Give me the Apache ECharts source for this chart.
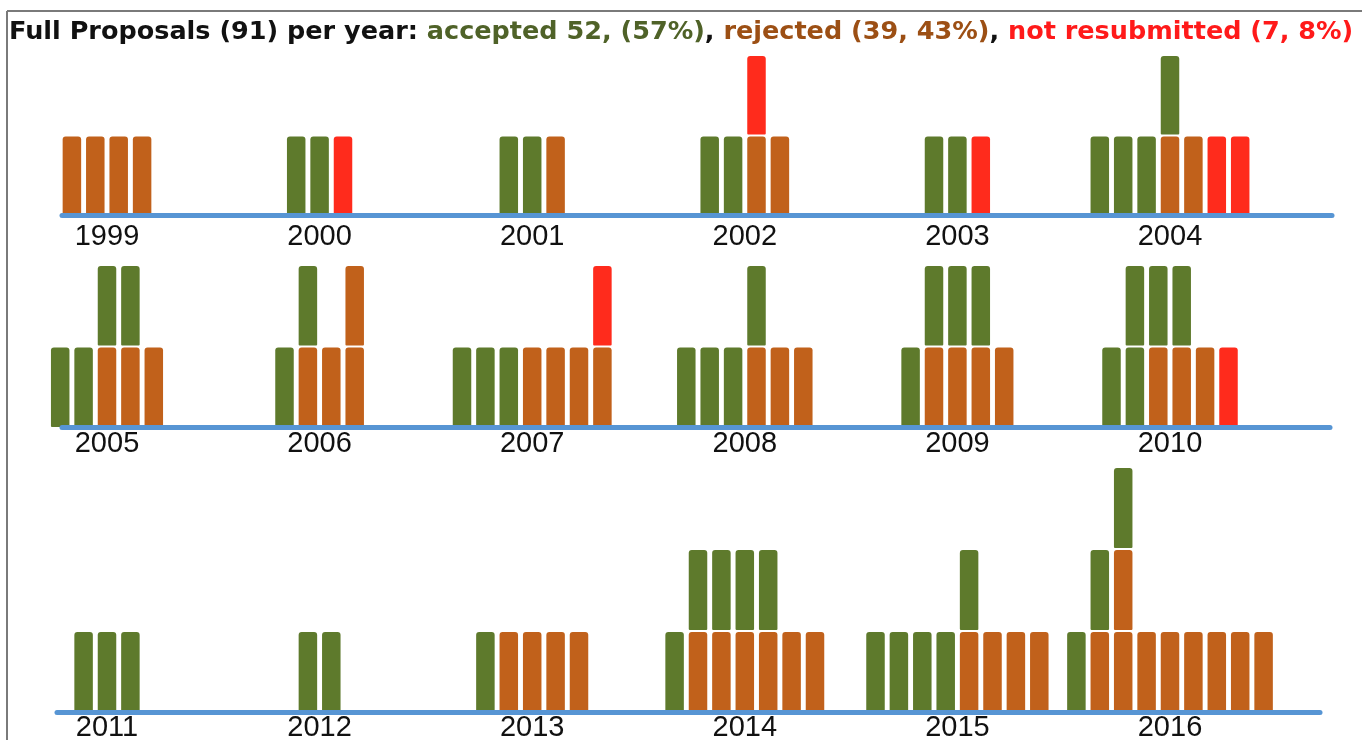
<!DOCTYPE html>
<html>
<head>
<meta charset="utf-8">
<script src="https://cdn.jsdelivr.net/npm/echarts@6/dist/echarts.min.js"></script>
<style>
  html, body { margin: 0; padding: 0; background: #ffffff; }
  #chart { width: 1362px; height: 740px; }
</style>
</head>
<body>
<div id="chart"></div>
<script>
// ---- data ----
// Year labels, in reading order (three rows of six).
const years = ['1999','2000','2001','2002','2003','2004',
               '2005','2006','2007','2008','2009','2010',
               '2011','2012','2013','2014','2015','2016'];
// Proposals per year, one string per column, stacked bottom -> top.
// A = accepted, R = rejected, N = not resubmitted
const columns = [
  ['R','R','R','R'],
  ['A','A','N'],
  ['A','A','R'],
  ['A','A','RN','R'],
  ['A','A','N'],
  ['A','A','A','RA','R','N','N'],
  ['A','A','RA','RA','R'],
  ['A','RA','R','RR'],
  ['A','A','A','R','R','R','RN'],
  ['A','A','A','RA','R','R'],
  ['A','RA','RA','RA','R'],
  ['A','AA','RA','RA','R','N'],
  ['A','A','A'],
  ['A','A'],
  ['A','R','R','R','R'],
  ['A','RA','RA','RA','RA','R','R'],
  ['A','A','A','A','RA','R','R','R'],
  ['A','RA','RRA','R','R','R','R','R','R']
];
const outcomeCodes = ['A','R','N'];
const titleParts = ['Full Proposals (91) per year: ', 'accepted 52, (57%)', ', ', 'rejected (39, 43%)', ', ', 'not resubmitted (7, 8%)'];

// ---- styling / layout ----
const blockColors = ['#5e7a2c', '#c1611b', '#ff2b1c'];
const lineBlue = '#5795d4';
const yearsPerRow = 6;
const anchorPx = 107;      // pixel x of first year label
const yearPx = 212.6;      // pixel spacing between years
const colPx = 23.4;        // pixel spacing between columns
const barW = 18.5;
const rows = [
  { top: 54,  height: 161, left: 62, right: 30, levels: 2, labelOffset: 22 },
  { top: 264, height: 163, left: 62, right: 32, levels: 2, labelOffset: 17 },
  { top: 466, height: 246, left: 57, right: 42, levels: 3, labelOffset: 16 }
];

const grids = [], xAxes = [], yAxes = [], series = [];
rows.forEach((row, r) => {
  const width = 1362 - row.left - row.right;
  const min = (row.left - anchorPx) / yearPx;
  grids.push({ left: row.left, right: row.right, top: row.top, height: row.height });
  xAxes.push({
    type: 'value', gridIndex: r, min: min, max: min + width / yearPx, z: 10,
    axisLine: { show: true, onZero: false, lineStyle: { color: lineBlue, width: 5 } },
    axisTick: { show: false }, axisLabel: { show: false }, splitLine: { show: false }
  });
  yAxes.push({
    type: 'value', gridIndex: r, min: 0, max: row.levels,
    axisLine: { show: false }, axisTick: { show: false }, axisLabel: { show: false }, splitLine: { show: false }
  });
  const blocks = [], labels = [];
  for (let k = 0; k < yearsPerRow; k++) {
    const yi = r * yearsPerRow + k;
    const cols = columns[yi];
    const n = cols.length;
    cols.forEach((stack, c) => {
      const x = k + (c - (n - 1) / 2) * colPx / yearPx;
      stack.split('').forEach((code, lvl) => {
        blocks.push([x, lvl, outcomeCodes.indexOf(code)]);
      });
    });
    labels.push([k, 0, years[yi]]);
  }
  series.push({
    type: 'custom', xAxisIndex: r, yAxisIndex: r, clip: false,
    data: blocks,
    renderItem: function (params, api) {
      const x = api.value(0), lvl = api.value(1), kind = api.value(2);
      const p0 = api.coord([x, lvl]);
      const p1 = api.coord([x, lvl + 1]);
      const gap = 2;
      return {
        type: 'rect',
        shape: { x: p0[0] - barW / 2, y: p1[1] + gap, width: barW, height: p0[1] - p1[1] - gap, r: [3, 3, 1, 1] },
        style: { fill: blockColors[kind] }
      };
    }
  });
  series.push({
    type: 'custom', xAxisIndex: r, yAxisIndex: r, clip: false,
    data: labels,
    renderItem: function (params, api) {
      const p = api.coord([api.value(0), 0]);
      return {
        type: 'text',
        style: {
          text: labels[params.dataIndex][2], x: p[0], y: p[1] + row.labelOffset,
          align: 'center', verticalAlign: 'middle',
          fill: '#111111', fontSize: 29, fontFamily: 'Liberation Sans'
        }
      };
    }
  });
});

const titleFont = { fontSize: 25.5, fontWeight: 'bold', fontFamily: 'DejaVu Sans' };
const chart = echarts.init(document.getElementById('chart'), null, { renderer: 'canvas' });
chart.setOption({
  backgroundColor: '#ffffff',
  animation: false,
  title: {
    left: 4, top: 14,
    text: '{k|' + titleParts[0] + '}{a|' + titleParts[1] + '}{k|' + titleParts[2] + '}{r|' + titleParts[3] + '}{k|' + titleParts[4] + '}{n|' + titleParts[5] + '}',
    textStyle: {
      rich: {
        k: Object.assign({ color: '#111111' }, titleFont),
        a: Object.assign({ color: '#4f6228' }, titleFont),
        r: Object.assign({ color: '#9c4f14' }, titleFont),
        n: Object.assign({ color: '#ff1a1a' }, titleFont)
      }
    }
  },
  graphic: [
    { type: 'line', shape: { x1: 7, y1: 11, x2: 1362, y2: 11 }, style: { stroke: '#7a7a7a', lineWidth: 2 } },
    { type: 'line', shape: { x1: 7, y1: 11, x2: 7, y2: 740 }, style: { stroke: '#7a7a7a', lineWidth: 2 } }
  ],
  grid: grids,
  xAxis: xAxes,
  yAxis: yAxes,
  series: series
});
</script>
</body>
</html>
